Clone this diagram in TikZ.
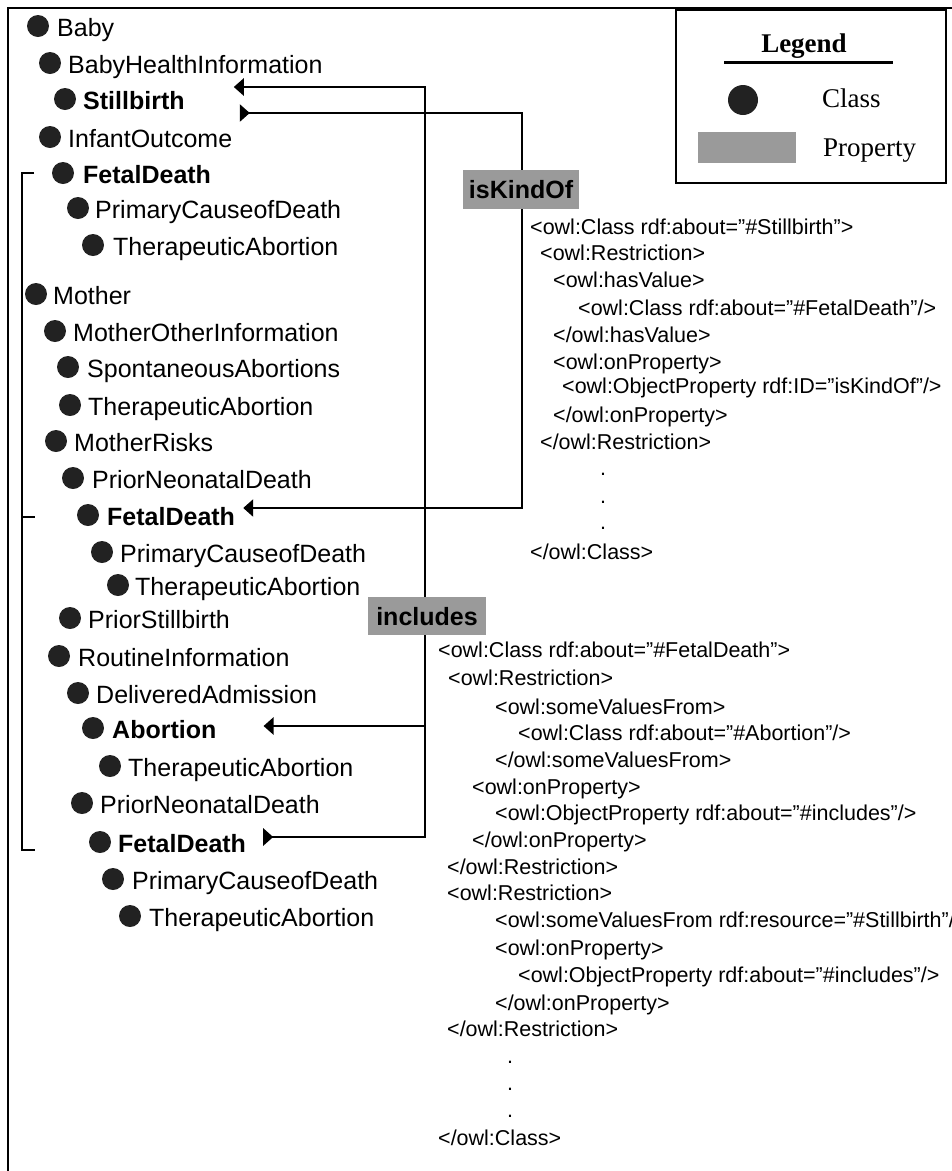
\documentclass[tikz,border=0pt]{standalone}
\usepackage{fontspec}
\setmainfont{Liberation Sans}
\newfontfamily\lserif{Liberation Serif}
\usetikzlibrary{arrows.meta}
\definecolor{propgray}{HTML}{9A9A9A}
\definecolor{dotcol}{HTML}{222222}
\tikzset{
  dot/.style={circle,fill=dotcol,inner sep=0pt,minimum size=22pt},
  cname/.style={anchor=west,inner sep=0pt,text height=18pt,text depth=0pt,font=\fontsize{25}{30}\selectfont},
  cbold/.style={cname,font=\fontsize{25}{30}\selectfont\bfseries},
  xml/.style={anchor=west,inner sep=0pt,text height=15.5pt,text depth=0pt,font=\fontsize{21.5}{26}\selectfont},
  xdot/.style={anchor=base,inner sep=0pt,font=\fontsize{21.5}{26}\selectfont},
  conn/.style={line width=2.6pt},
  brk/.style={line width=2.6pt},
  propbox/.style={fill=propgray,inner sep=0pt,text height=18pt,text depth=0pt,font=\fontsize{25}{30}\selectfont\bfseries},
  legtext/.style={anchor=west,inner sep=0pt,text height=18pt,text depth=0pt,font=\lserif\fontsize{27}{32}\selectfont},
}
\newcommand\clsitem[6]{%
  \node[dot] (#1d) at (#2,#3) {};
  \node[#5] (#1) at (#4,#3+1) {#6};}
\begin{document}
\begin{tikzpicture}[x=1pt,y=-1pt]
\useasboundingbox (0,0) rectangle (952,1171);
\clip (0,0) rectangle (952,1171);
% frame
\draw[line width=2pt] (8,1175) -- (8,8) -- (960,8);
% class tree
\clsitem{baby}{38}{26}{57}{cname}{Baby}
\clsitem{bhi}{50}{63}{68}{cname}{BabyHealthInformation}
\clsitem{sb}{65}{99}{83}{cbold}{Stillbirth}
\clsitem{io}{50}{137}{68}{cname}{InfantOutcome}
\clsitem{fda}{63}{173}{83}{cbold}{FetalDeath}
\clsitem{pcda}{78}{208}{95}{cname}{PrimaryCauseofDeath}
\clsitem{taa}{93}{245}{113}{cname}{TherapeuticAbortion}
\clsitem{mo}{36}{294}{53}{cname}{Mother}
\clsitem{moi}{55}{331}{73}{cname}{MotherOtherInformation}
\clsitem{sa}{68}{367}{87}{cname}{SpontaneousAbortions}
\clsitem{tab}{70}{405}{88}{cname}{TherapeuticAbortion}
\clsitem{mr}{56}{441}{74}{cname}{MotherRisks}
\clsitem{pnda}{73}{478}{92}{cname}{PriorNeonatalDeath}
\clsitem{fdb}{88}{515}{107}{cbold}{FetalDeath}
\clsitem{pcdb}{102}{552}{120}{cname}{PrimaryCauseofDeath}
\clsitem{tac}{118}{585}{135}{cname}{TherapeuticAbortion}
\clsitem{ps}{70}{618}{88}{cname}{PriorStillbirth}
\clsitem{ri}{59}{656}{78}{cname}{RoutineInformation}
\clsitem{da}{78}{693}{96}{cname}{DeliveredAdmission}
\clsitem{ab}{93}{728}{112}{cbold}{Abortion}
\clsitem{tad}{110}{766}{128}{cname}{TherapeuticAbortion}
\clsitem{pndb}{82}{803}{100}{cname}{PriorNeonatalDeath}
\clsitem{fdc}{100}{842}{118}{cbold}{FetalDeath}
\clsitem{pcdc}{113}{879}{132}{cname}{PrimaryCauseofDeath}
\clsitem{tae}{130}{916}{149}{cname}{TherapeuticAbortion}
% bracket
\draw[brk] (34,173) -- (22,173) -- (22,850) -- (35,850);
\draw[brk] (22,517) -- (35,517);
% connector helpers
\coordinate (incx) at (425,0);
\coordinate (kindx) at (522,0);
\coordinate (sbin) at ([shift={(49,-13)}]sb.east);
\coordinate (sbtail) at ([shift={(55,13)}]sb.east);
\coordinate (fdbin) at ([shift={(8,-8)}]fdb.east);
\coordinate (abin) at ([shift={(47,-3)}]ab.east);
\coordinate (fdctail) at ([shift={(17,-6)}]fdc.east);
% includes
\draw[conn,{Triangle[reversed,length=10pt,width=17pt]}-{Triangle[length=10pt,width=17pt]}]
  (fdctail) -- (fdctail -| incx) -- (sbin -| incx) -- (sbin);
\draw[conn,-{Triangle[length=10pt,width=17pt]}] (abin -| incx) -- (abin);
% isKindOf
\draw[conn,{Triangle[reversed,length=10pt,width=17pt]}-{Triangle[length=10pt,width=17pt]}]
  (sbtail) -- (sbtail -| kindx) -- (fdbin -| kindx) -- (fdbin);
% property labels
\node[propbox,minimum width=116pt,minimum height=39pt] (kind) at (521,189.5) {isKindOf};
\node[propbox,minimum width=118pt,minimum height=38pt] (inc) at (427,616) {includes};
% xml block 1
\node[xml] (xa1) at (530,227) {<owl:Class rdf:about=”\#Stillbirth”>};
\node[xml] (xa2) at (540,253) {<owl:Restriction>};
\node[xml] (xa3) at (553,280) {<owl:hasValue>};
\node[xml] (xa4) at (578,308) {<owl:Class rdf:about=”\#FetalDeath”/>};
\node[xml] (xa5) at (553,335) {</owl:hasValue>};
\node[xml] (xa6) at (553,362) {<owl:onProperty>};
\node[xml] (xa7) at (562,386) {<owl:ObjectProperty rdf:ID=”isKindOf”/>};
\node[xml] (xa8) at (553,415) {</owl:onProperty>};
\node[xml] (xa9) at (540,442) {</owl:Restriction>};
\node[xdot] (xad1) at (603,475) {.};
\node[xdot] (xad2) at (603,503) {.};
\node[xdot] (xad3) at (603,529) {.};
\node[xml] (xa10) at (530,552) {</owl:Class>};
% xml block 2
\node[xml] (xb1) at (438,650) {<owl:Class rdf:about=”\#FetalDeath”>};
\node[xml] (xb2) at (448,678) {<owl:Restriction>};
\node[xml] (xb3) at (495,707) {<owl:someValuesFrom>};
\node[xml] (xb4) at (518,733) {<owl:Class rdf:about=”\#Abortion”/>};
\node[xml] (xb5) at (495,760) {</owl:someValuesFrom>};
\node[xml] (xb6) at (472,787) {<owl:onProperty>};
\node[xml] (xb7) at (495,813) {<owl:ObjectProperty rdf:about=”\#includes”/>};
\node[xml] (xb8) at (472,840) {</owl:onProperty>};
\node[xml] (xb9) at (447,867) {</owl:Restriction>};
\node[xml] (xb10) at (447,893) {<owl:Restriction>};
\node[xml] (xb11) at (495,920) {<owl:someValuesFrom rdf:resource=”\#Stillbirth”/>};
\node[xml] (xb12) at (495,948) {<owl:onProperty>};
\node[xml] (xb13) at (518,975) {<owl:ObjectProperty rdf:about=”\#includes”/>};
\node[xml] (xb14) at (495,1003) {</owl:onProperty>};
\node[xml] (xb15) at (447,1029) {</owl:Restriction>};
\node[xdot] (xbd1) at (510,1063) {.};
\node[xdot] (xbd2) at (510,1090) {.};
\node[xdot] (xbd3) at (510,1117) {.};
\node[xml] (xb16) at (438,1138) {</owl:Class>};
% legend
\node[draw,line width=2.5pt,minimum width=270pt,minimum height=173pt,inner sep=0pt] (legend) at (811,96.5) {};
\node[anchor=base,inner sep=0pt,font=\lserif\bfseries\fontsize{27}{32}\selectfont] (legt) at (804,52.5) {Legend};
\draw[line width=3pt] (724,62) -- (893,62);
\node[dot,minimum size=30pt] (legdot) at (743,100) {};
\node[legtext] (legclass) at (822,98.5) {Class};
\node[fill=propgray,inner sep=0pt,minimum width=98pt,minimum height=31pt] (legrect) at (747,147.5) {};
\node[legtext] (legprop) at (823,147) {Property};
\end{tikzpicture}
\end{document}
